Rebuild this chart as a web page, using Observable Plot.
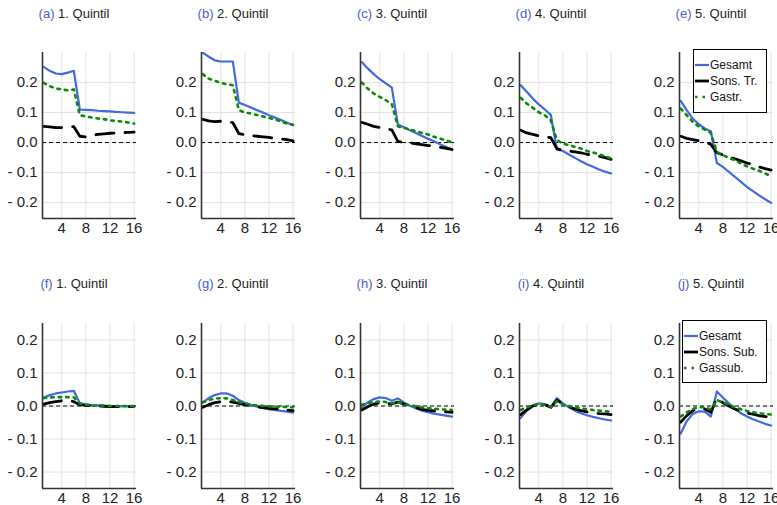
<!DOCTYPE html>
<html><head><meta charset="utf-8">
<script src="https://cdn.jsdelivr.net/npm/d3@7"></script>
<script src="https://cdn.jsdelivr.net/npm/@observablehq/plot@0.6"></script>
<style>
body{margin:0;background:#fff;font-family:"Liberation Sans",Arial,sans-serif;}
#root{position:relative;width:777px;height:505px;overflow:hidden;background:#fff;}
.panel{position:absolute;}
.panel svg{max-width:none !important;}
.title{position:absolute;font-size:13px;color:#222;transform:translateX(-50%);white-space:nowrap;line-height:1;}
.title span{color:#4a5bd4;}
.legend{position:absolute;background:#fff;border:1px solid #000;font-size:12px;color:#111;box-sizing:border-box;padding-top:7px;}
.legend .row{display:flex;align-items:center;height:16px;}
.legend svg{margin-left:1px;margin-right:1px;}
</style></head>
<body><div id="root"></div>
<script>
const quarters = [1,2,3,4,5,6,7,8,9,10,11,12,13,14,15,16];
const xTicks = [4,8,12,16];
const yTicks = [-0.2,-0.1,0,0.1,0.2];
const panelLetters = ["a","b","c","d","e","f","g","h","i","j"];
const panelTitles = ["1. Quintil","2. Quintil","3. Quintil","4. Quintil","5. Quintil","1. Quintil","2. Quintil","3. Quintil","4. Quintil","5. Quintil"];
const topSeriesNames = ["Gesamt","Sons. Tr.","Gastr."];
const bottomSeriesNames = ["Gesamt","Sons. Sub.","Gassub."];

// Top row (a)-(e)
const aGesamt = [0.252,0.239,0.230,0.228,0.233,0.239,0.110,0.109,0.108,0.106,0.105,0.104,0.102,0.101,0.100,0.099];
const aSons   = [0.054,0.052,0.050,0.050,0.052,0.053,0.021,0.019,0.024,0.027,0.029,0.031,0.032,0.033,0.034,0.035];
const aGas    = [0.199,0.188,0.180,0.177,0.174,0.177,0.091,0.087,0.083,0.080,0.078,0.074,0.072,0.070,0.067,0.063];
const bGesamt = [0.300,0.286,0.274,0.270,0.270,0.270,0.133,0.125,0.117,0.108,0.100,0.091,0.083,0.075,0.066,0.058];
const bSons   = [0.077,0.072,0.070,0.071,0.070,0.066,0.030,0.026,0.023,0.021,0.019,0.017,0.014,0.012,0.010,0.006];
const bGas    = [0.228,0.213,0.206,0.199,0.194,0.191,0.108,0.100,0.097,0.092,0.087,0.082,0.077,0.070,0.063,0.059];
const cGesamt = [0.268,0.247,0.228,0.211,0.197,0.183,0.060,0.051,0.041,0.032,0.022,0.013,0.004,-0.006,-0.015,-0.025];
const cSons   = [0.067,0.061,0.054,0.050,0.046,0.042,0.004,0.001,-0.001,-0.004,-0.007,-0.010,-0.012,-0.016,-0.019,-0.023];
const cGas    = [0.200,0.180,0.163,0.152,0.141,0.128,0.054,0.049,0.043,0.038,0.032,0.027,0.019,0.013,0.008,0.000];
const dGesamt = [0.191,0.169,0.147,0.127,0.110,0.092,-0.023,-0.028,-0.040,-0.051,-0.062,-0.072,-0.081,-0.090,-0.097,-0.103];
const dSons   = [0.041,0.032,0.027,0.022,0.019,0.016,-0.020,-0.026,-0.028,-0.031,-0.034,-0.039,-0.042,-0.046,-0.050,-0.056];
const dGas    = [0.149,0.130,0.116,0.101,0.091,0.074,0.008,-0.003,-0.009,-0.014,-0.020,-0.028,-0.033,-0.039,-0.046,-0.053];
const eGesamt = [0.139,0.108,0.080,0.061,0.047,0.038,-0.068,-0.081,-0.098,-0.114,-0.131,-0.148,-0.162,-0.176,-0.189,-0.201];
const eSons   = [0.021,0.014,0.010,0.006,0.002,-0.006,-0.034,-0.041,-0.048,-0.054,-0.061,-0.068,-0.074,-0.081,-0.087,-0.092];
const eGas    = [0.113,0.091,0.069,0.054,0.043,0.032,-0.031,-0.042,-0.051,-0.059,-0.070,-0.079,-0.087,-0.094,-0.103,-0.112];
// Bottom row (f)-(j)
const fGesamt = [0.026,0.033,0.038,0.041,0.044,0.046,0.008,0.005,0.003,0.002,0.001,0.000,0.000,-0.001,-0.001,-0.001];
const fSons   = [0.006,0.010,0.013,0.016,0.018,0.013,0.004,0.002,0.001,0.000,-0.001,-0.002,-0.002,-0.002,-0.002,-0.001];
const fGas    = [0.024,0.026,0.027,0.027,0.027,0.026,0.008,0.004,0.002,0.001,0.001,0.000,0.000,0.000,0.000,0.000];
const gGesamt = [0.011,0.024,0.033,0.038,0.038,0.031,0.018,0.010,0.004,-0.002,-0.006,-0.010,-0.012,-0.015,-0.017,-0.020];
const gSons   = [-0.004,0.004,0.010,0.013,0.014,0.012,0.008,0.004,0.001,-0.002,-0.005,-0.007,-0.009,-0.011,-0.012,-0.014];
const gGas    = [0.011,0.018,0.022,0.024,0.023,0.018,0.012,0.007,0.004,0.002,0.000,-0.001,-0.002,-0.003,-0.003,-0.004];
const hGesamt = [-0.004,0.011,0.021,0.026,0.024,0.016,0.023,0.011,0.001,-0.007,-0.014,-0.019,-0.023,-0.026,-0.029,-0.032];
const hSons   = [-0.012,-0.002,0.006,0.010,0.008,0.006,0.012,0.006,0.000,-0.005,-0.010,-0.013,-0.015,-0.017,-0.018,-0.019];
const hGas    = [0.004,0.008,0.012,0.014,0.012,0.008,0.011,0.006,0.002,-0.001,-0.004,-0.006,-0.008,-0.010,-0.011,-0.012];
const iGesamt = [-0.036,-0.014,0.001,0.008,0.006,-0.004,0.024,0.008,-0.004,-0.014,-0.022,-0.028,-0.033,-0.037,-0.041,-0.044];
const iSons   = [-0.026,-0.012,0.000,0.006,0.004,-0.004,0.018,0.006,-0.002,-0.009,-0.014,-0.018,-0.021,-0.023,-0.024,-0.026];
const iGas    = [-0.012,-0.004,0.003,0.006,0.004,-0.002,0.014,0.004,0.000,-0.004,-0.007,-0.010,-0.012,-0.014,-0.016,-0.018];
const jGesamt = [-0.083,-0.046,-0.024,-0.016,-0.017,-0.032,0.044,0.026,0.008,-0.009,-0.022,-0.032,-0.040,-0.047,-0.054,-0.059];
const jSons   = [-0.049,-0.029,-0.014,-0.007,-0.009,-0.019,0.024,0.010,0.000,-0.009,-0.016,-0.021,-0.025,-0.029,-0.032,-0.034];
const jGas    = [-0.032,-0.019,-0.009,-0.004,-0.004,-0.010,0.018,0.011,0.004,-0.004,-0.010,-0.015,-0.019,-0.022,-0.024,-0.026];

const panelSeries = [
  [aGesamt,aSons,aGas],[bGesamt,bSons,bGas],[cGesamt,cSons,cGas],[dGesamt,dSons,dGas],[eGesamt,eSons,eGas],
  [fGesamt,fSons,fGas],[gGesamt,gSons,gGas],[hGesamt,hSons,hGas],[iGesamt,iSons,iGas],[jGesamt,jSons,jGas]
];

const BLUE = "#4169e1", BLACK = "#000", GREEN = "#0a8a0a";
const styles = [
  {stroke: BLUE, strokeWidth: 2.2},
  {stroke: BLACK, strokeWidth: 2.8, strokeDasharray: "18,11"},
  {stroke: GREEN, strokeWidth: 2.6, strokeDasharray: "2.5,5"}
];
const fmt = d => (Math.abs(d) < 1e-9 ? "0.0" : d < 0 ? "- " + Math.abs(d).toFixed(1) : d.toFixed(1));

const root = document.getElementById("root");
const axisXs = [42, 201, 360, 519, 679];
const mL = 40, innerW = 94, mR = 12, mT = 4, mB = 22;
const xDomain = [0.8, 16.4];

panelSeries.forEach((series, p) => {
  const row = p < 5 ? 0 : 1;
  const col = p % 5;
  const yDomain = row === 0 ? [-0.253, 0.3] : [-0.25, 0.25];
  const innerH = row === 0 ? 166 : 165;
  const top = row === 0 ? 48 : 319;
  const names = row === 0 ? topSeriesNames : bottomSeriesNames;
  const marks = [
    Plot.gridX(xTicks, {stroke: "#e2e2e2", strokeOpacity: 1}),
    Plot.gridY(yTicks, {stroke: "#e2e2e2", strokeOpacity: 1}),
    Plot.ruleY([0], {stroke: "#000", strokeWidth: 1, strokeDasharray: "4,3"})
  ];
  series.forEach((vals, s) => {
    const data = quarters.map((q, i) => ({q, v: vals[i], name: names[s]}));
    marks.push(Plot.line(data, {x: "q", y: "v", clip: true, ...styles[s]}));
  });
  marks.push(
    Plot.ruleX([xDomain[0]], {stroke: "#333", strokeWidth: 1.6}),
    Plot.ruleY([yDomain[0]], {stroke: "#333", strokeWidth: 1.6}),
    Plot.axisY(yTicks, {tickSize: 0, tickPadding: 5, tickFormat: fmt, fontSize: 15, fill: "#222", label: null}),
    Plot.axisX(xTicks, {tickSize: 0, tickPadding: 4, fontSize: 15, fill: "#222", label: null})
  );
  const W = mL + innerW + mR;
  const chart = Plot.plot({
    width: W,
    height: mT + innerH + mB,
    marginLeft: mL, marginRight: mR, marginTop: mT, marginBottom: mB,
    x: {domain: xDomain, label: null},
    y: {domain: yDomain, label: null},
    style: {fontFamily: "'Liberation Sans', Arial, sans-serif", background: "transparent", overflow: "visible", maxWidth: "none"},
    marks
  });
  const holder = document.createElement("div");
  holder.className = "panel";
  holder.style.left = (axisXs[col] - mL) + "px";
  holder.style.top = top + "px";
  holder.style.width = W + "px";
  holder.appendChild(chart);
  root.appendChild(holder);

  const title = document.createElement("div");
  title.className = "title";
  title.style.left = (axisXs[col] + 32) + "px";
  title.style.top = (row === 0 ? 7 : 277) + "px";
  title.innerHTML = `<span>(${panelLetters[p]})</span> ${panelTitles[p]}`;
  root.appendChild(title);
});

function addLegend(names, left, top, width, height) {
  const lg = document.createElement("div");
  lg.className = "legend";
  Object.assign(lg.style, {left: left + "px", top: top + "px", width: width + "px", height: height + "px"});
  names.forEach((n, s) => {
    const st = styles[s];
    const dash = s === 2 ? `stroke-dasharray="${st.strokeDasharray}"` : "";
    lg.insertAdjacentHTML("beforeend",
      `<div class="row"><svg width="14" height="6"><line x1="0" x2="14" y1="3" y2="3" stroke="${st.stroke}" stroke-width="${st.strokeWidth}" ${dash}/></svg><span>${n}</span></div>`);
  });
  root.appendChild(lg);
}
addLegend(topSeriesNames, 693, 49, 74, 64);
addLegend(bottomSeriesNames, 682, 320, 85, 63);
</script>
</body></html>
